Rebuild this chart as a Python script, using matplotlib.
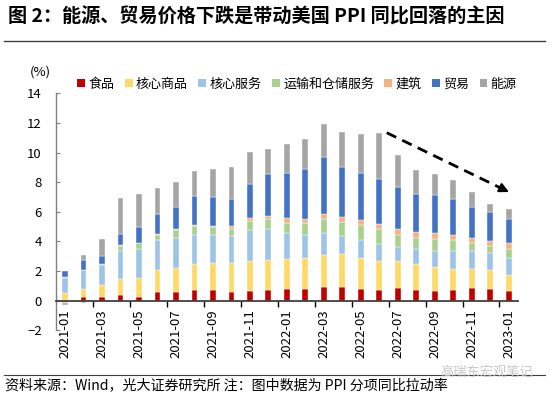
import numpy as np
import matplotlib
matplotlib.use('Agg')
import matplotlib.pyplot as plt
from matplotlib.patches import Patch
from matplotlib.lines import Line2D

plt.rcParams['font.family'] = ['Noto Sans CJK SC', 'DejaVu Sans']

months = ['2021-01', '2021-02', '2021-03', '2021-04', '2021-05', '2021-06',
          '2021-07', '2021-08', '2021-09', '2021-10', '2021-11', '2021-12',
          '2022-01', '2022-02', '2022-03', '2022-04', '2022-05', '2022-06',
          '2022-07', '2022-08', '2022-09', '2022-10', '2022-11', '2022-12',
          '2023-01']

food = [0.03, 0.22, 0.27, 0.40, 0.22, 0.59, 0.56, 0.72, 0.74, 0.59, 0.65, 0.72, 0.77,
        0.79, 0.90, 0.92, 0.79, 0.72, 0.86, 0.72, 0.68, 0.72, 0.86, 0.81, 0.68]
core_goods = [0.52, 0.59, 0.79, 1.04, 1.33, 1.51, 1.67, 1.73, 1.80, 1.96, 2.05, 2.05, 2.02,
              2.12, 2.18, 2.21, 2.12, 1.98, 1.82, 1.76, 1.60, 1.42, 1.28, 1.26, 1.06]
core_services = [1.01, 1.24, 1.35, 1.91, 1.96, 2.03, 2.03, 1.98, 1.89, 1.85, 2.07, 2.05, 1.79,
                 1.55, 1.49, 1.24, 1.22, 1.15, 0.95, 0.99, 1.08, 1.22, 1.19, 1.13, 1.13]
transport = [-0.13, -0.13, 0.07, 0.36, 0.36, 0.34, 0.52, 0.59, 0.52, 0.43, 0.63, 0.70, 0.69,
             0.77, 0.95, 0.95, 1.01, 0.99, 0.83, 0.77, 0.79, 0.74, 0.56, 0.50, 0.61]
construction = [0.02, 0.02, 0.02, 0.04, 0.04, 0.07, 0.07, 0.09, 0.09, 0.23, 0.18, 0.20, 0.29,
                0.29, 0.32, 0.32, 0.34, 0.34, 0.38, 0.38, 0.43, 0.32, 0.34, 0.32, 0.43]
trade = [0.43, 0.67, 0.54, 0.77, 1.08, 1.33, 1.49, 1.96, 2.00, 1.82, 2.30, 2.84, 3.07,
         3.38, 3.87, 3.42, 3.15, 3.04, 2.84, 2.57, 2.55, 2.48, 2.09, 1.94, 1.62]
energy = [-0.15, 0.32, 1.15, 2.39, 2.21, 1.76, 1.67, 1.67, 1.87, 2.14, 2.16, 1.67, 1.96,
          2.03, 2.21, 2.36, 2.64, 3.13, 2.16, 1.62, 1.46, 1.28, 1.01, 0.54, 0.65]

series_names = ['食品', '核心商品', '核心服务', '运输和仓储服务', '建筑', '贸易', '能源']
series_values = [food, core_goods, core_services, transport, construction, trade, energy]
colors = ['#C00000', '#FFD966', '#9DC3E6', '#A9D18E', '#F4B183', '#4472C4', '#A5A5A5']

title = '图 2：能源、贸易价格下跌是带动美国 PPI 同比回落的主因'
footer = '资料来源：Wind，光大证券研究所 注：图中数据为 PPI 分项同比拉动率'

fig = plt.figure(figsize=(5.5, 3.95), dpi=100)
ax = fig.add_axes([0.1013, 0.1638, 0.8405, 0.5995])

x = np.arange(len(months))
pos = np.zeros(len(months))
neg = np.zeros(len(months))
for vals, c in zip(series_values, colors):
    v = np.array(vals, dtype=float)
    bottom = np.where(v >= 0, pos, neg)
    ax.bar(x, v, 0.31, bottom=bottom, color=c, edgecolor='white', linewidth=0.3, zorder=1)
    pos += np.where(v >= 0, v, 0)
    neg += np.where(v < 0, v, 0)

ax.set_xlim(-0.5, len(months) - 0.5)
ax.set_ylim(-2, 14)
ax.set_yticks(np.arange(-2, 15, 2))
ax.spines['top'].set_visible(False)
ax.spines['right'].set_visible(False)
ax.spines['bottom'].set_position(('data', 0))
ax.spines['bottom'].set_color('#404040')
ax.spines['bottom'].set_linewidth(1.3)
ax.spines['left'].set_color('#808080')
ax.spines['left'].set_linewidth(1.0)

ax.set_xticks(x[::2])
ax.set_xticklabels(months[::2], rotation=90, fontsize=9.5)
ax.set_xticks(np.arange(1.5, len(months) - 1, 2), minor=True)
ax.tick_params(axis='x', which='major', length=0, pad=6)
ax.tick_params(axis='x', which='minor', length=4, width=1, color='black', direction='out')
ax.tick_params(axis='y', which='major', length=3, direction='in', color='#808080',
               labelsize=9.5, pad=10)

# trend arrow
x0, y0, x1, y1 = 17.4, 11.35, 24.15, 7.26
frac = 0.93
ax.plot([x0, x0 + (x1 - x0) * frac], [y0, y0 + (y1 - y0) * frac], color='black',
        lw=2.0, linestyle=(0, (3.8, 2.4)), zorder=5, solid_capstyle='butt')
ax.annotate('', xy=(x1, y1), xytext=(x0 + (x1 - x0) * 0.90, y0 + (y1 - y0) * 0.90),
            arrowprops=dict(arrowstyle='-|>', color='black', lw=1.5, mutation_scale=14),
            zorder=6)

handles = [Patch(facecolor=c, edgecolor='none') for c in colors]
fig.legend(handles, series_names, loc='center', bbox_to_anchor=(0.54, 0.787), ncol=7,
           frameon=False, fontsize=9.4, handlelength=0.6, handleheight=0.6,
           handletextpad=0.25, columnspacing=0.8, borderpad=0, borderaxespad=0)

fig.text(0.073, 0.818, '(%)', ha='center', va='center', fontsize=9.5)
fig.text(0.0145, 0.957, title, ha='left', va='center', fontsize=13.8, fontweight='bold')
fig.add_artist(Line2D([0.007, 0.99], [1 - 41 / 395] * 2, color='#404040', lw=1.0))
fig.add_artist(Line2D([0.007, 0.99], [1 - 375 / 395] * 2, color='#404040', lw=0.8))
fig.text(0.0097, 1 - 386 / 395, footer, ha='left', va='center', fontsize=10.1)
fig.text(0.80, 1 - 372 / 395, '高瑞东宏观笔记', ha='left', va='center', fontsize=9.5,
         color='#c8c8c8')

fig.savefig('out.png', dpi=100)
